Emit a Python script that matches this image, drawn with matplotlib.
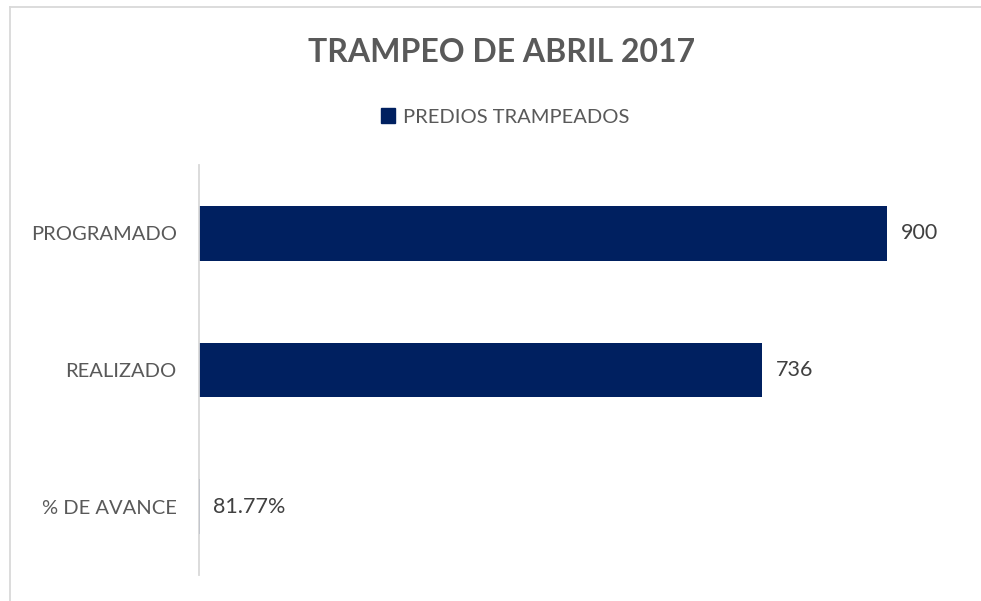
import matplotlib.pyplot as plt
from matplotlib.lines import Line2D
from matplotlib.patches import Patch

categories = ['PROGRAMADO', 'REALIZADO', '% DE AVANCE']
values = [900, 736, 0.8177]
labels = ['900', '736', '81.77%']
series_name = 'PREDIOS TRAMPEADOS'
title = 'TRAMPEO DE ABRIL 2017'

bar_color = '#002060'
text_color = '#595959'
plt.rcParams['font.family'] = ['Lato', 'DejaVu Sans']

fig = plt.figure(figsize=(9.81, 6.01), dpi=100)
ax = fig.add_axes([199 / 981, 1 - 575 / 601, (964 - 199) / 981, (575 - 165) / 601])

ypos = range(len(categories))
ax.barh(ypos, values, height=0.4, color=bar_color, linewidth=0)
for y, v, t in zip(ypos, values, labels):
    ax.text(v + 18, y, t, va='center', ha='left', fontsize=15.5, color='#404040')

ax.set_xlim(0, 1000)
ax.set_ylim(2.5, -0.5)
ax.set_yticks(list(ypos))
ax.set_yticklabels(categories, fontsize=14.5, color=text_color)
ax.tick_params(axis='y', length=0, pad=16)
ax.set_xticks([])
for s in ['top', 'right', 'bottom']:
    ax.spines[s].set_visible(False)
ax.spines['left'].set_color('#D9D9D9')
ax.spines['left'].set_linewidth(1.3)

fig.text(0.511, 1 - 53 / 601, title, ha='center', va='center', fontsize=23,
         fontweight='bold', color=text_color)
fig.legend(handles=[Patch(color=bar_color, label=series_name)], loc='center',
           bbox_to_anchor=(0.515, 1 - 117 / 601), frameon=False, fontsize=14.5,
           handlelength=0.7, handleheight=0.7, handletextpad=0.4, labelcolor=text_color)

# chart border
fig.add_artist(Line2D([10 / 981, 1], [1 - 7 / 601] * 2, color='#D9D9D9', lw=1.3))
fig.add_artist(Line2D([10 / 981] * 2, [0, 1 - 7 / 601], color='#D9D9D9', lw=1.3))

fig.savefig('out.png', dpi=100)
